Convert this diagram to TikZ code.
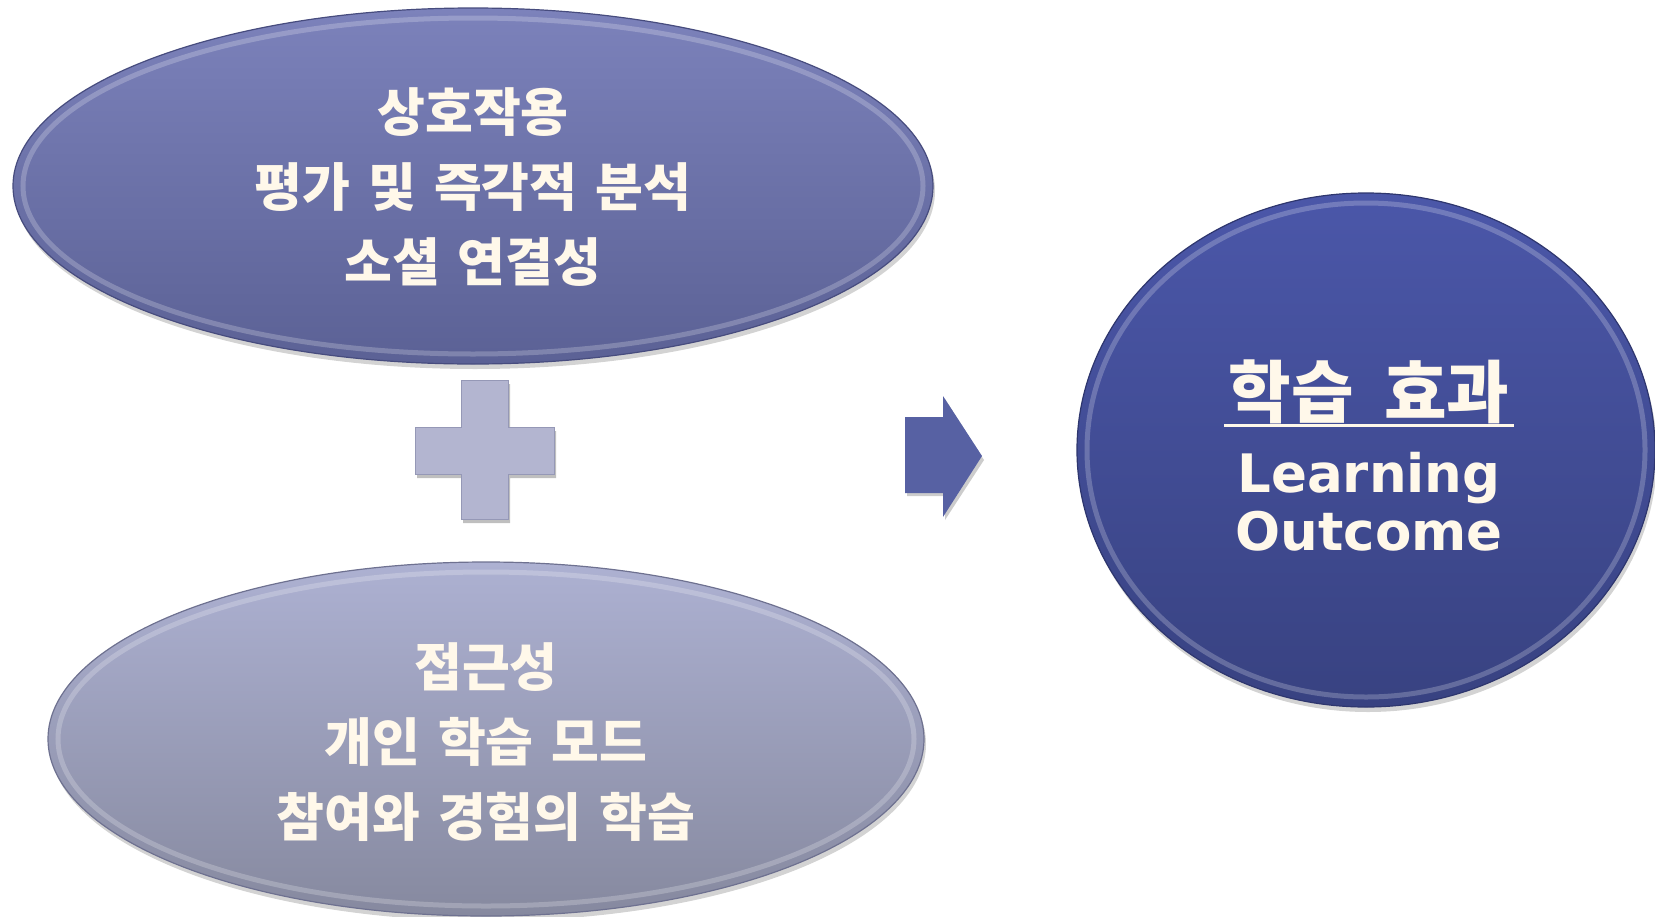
\documentclass[tikz,border=0pt]{standalone}
\usepackage{fontspec}
\newfontfamily\kr{Noto Sans CJK KR}[WordSpace=1.5]
\newfontfamily\dvs{DejaVu Sans}
\usetikzlibrary{shapes.geometric,shadows}
\definecolor{txt}{HTML}{FFF8EA}
\definecolor{topA}{HTML}{7C82BB}
\definecolor{topB}{HTML}{5B6195}
\definecolor{topE}{HTML}{474C7E}
\definecolor{botA}{HTML}{ADB1D2}
\definecolor{botB}{HTML}{86899F}
\definecolor{botE}{HTML}{6E7190}
\definecolor{cirA}{HTML}{4B57A9}
\definecolor{cirB}{HTML}{384281}
\definecolor{cirE}{HTML}{2E366E}
\definecolor{plusC}{HTML}{B3B5D0}
\definecolor{plusE}{HTML}{9598B6}
\definecolor{arrC}{HTML}{5761A3}
\tikzset{
  blob/.style={ellipse, inner sep=0pt, line width=1.2pt,
    drop shadow={opacity=0.35, shadow xshift=2pt, shadow yshift=-5pt}},
  bevel/.style={white, opacity=0.22, line width=5pt},
  krtext/.style={text=txt, align=center, font=\kr\bfseries\fontsize{52}{75}\selectfont},
}
\begin{document}
\begin{tikzpicture}[x=1pt,y=-1pt]
\useasboundingbox (0,0) rectangle (1655,916);
% top ellipse
\node[blob, draw=topE, top color=topA, bottom color=topB,
  minimum width=920pt, minimum height=356pt] (top) at (473,186) {};
\draw[bevel] (top.center) ellipse [x radius=450, y radius=168];
\node[krtext] (toptxt) at (473,187) {상호작용\\평가 및 즉각적 분석\\소셜 연결성};
% bottom ellipse
\node[blob, draw=botE, top color=botA, bottom color=botB,
  minimum width=876pt, minimum height=354pt] (bot) at (486,739) {};
\draw[bevel] (bot.center) ellipse [x radius=428, y radius=167];
\node[krtext] (bottxt) at (486,742) {접근성\\개인 학습 모드\\참여와 경험의 학습};
% circle
\node[blob, draw=cirE, top color=cirA, bottom color=cirB,
  minimum width=578pt, minimum height=514pt] (res) at (1366,450) {};
\draw[bevel] (res.center) ellipse [x radius=279, y radius=247];
\node[text=txt, inner sep=0pt, font=\kr\bfseries\fontsize{68}{70}\selectfont] (restitle) at (1369,392) {학습\hspace{0.45em}효과};
\draw[txt, line width=2.5pt] ([yshift=-8pt, xshift=-4pt]restitle.base west) -- ([yshift=-8pt, xshift=4pt]restitle.base east);
\node[text=txt, align=center, font=\dvs\bfseries\fontsize{53}{58}\selectfont] (reseng) at (1369,502) {Learning\\Outcome};
% plus
\fill[black, opacity=0.25] (463,384) -- (510,384) -- (510,431) -- (556,431) -- (556,478) -- (510,478) -- (510,523) -- (463,523) -- (463,478) -- (417,478) -- (417,431) -- (463,431) -- cycle;
\filldraw[fill=plusC, draw=plusE, line width=1pt] (461,380) -- (508,380) -- (508,427) -- (554,427) -- (554,474) -- (508,474) -- (508,519) -- (461,519) -- (461,474) -- (415,474) -- (415,427) -- (461,427) -- cycle;
% arrow
\fill[black, opacity=0.2] (907,420) -- (945,420) -- (945,399) -- (984,460) -- (945,520) -- (945,496) -- (907,496) -- cycle;
\fill[arrC] (905,417) -- (943,417) -- (943,396) -- (982,456) -- (943,517) -- (943,493) -- (905,493) -- cycle;
\end{tikzpicture}
\end{document}
